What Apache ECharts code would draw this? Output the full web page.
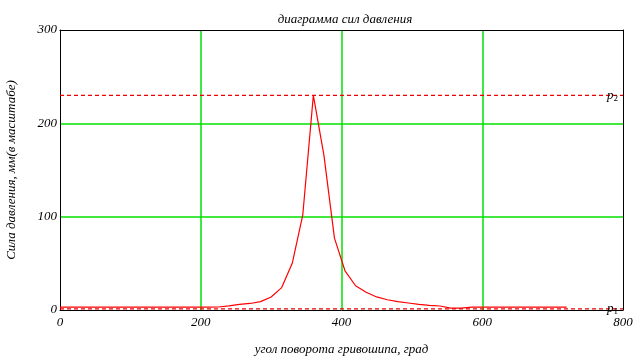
<!DOCTYPE html>
<html><head><meta charset="utf-8">
<script src="https://cdn.jsdelivr.net/npm/echarts@6/dist/echarts.min.js"></script>
<style>html,body{margin:0;padding:0;background:#fff}#c{width:644px;height:357px}</style>
</head><body><div id="c"></div>
<script>
var angles = [0,15,30,45,60,75,90,105,120,135,150,165,180,195,210,225,240,255,270,285,300,315,330,345,360,375,390,405,420,435,450,465,480,495,510,525,540,555,570,585,600,615,630,645,660,675,690,705,720];
var force  = [3,3,3,3,3,3,3,3,3,3,3,3,3,3,3,3.2,4.5,6,7,9,14,24,50,102,230,166,77,42,26,19,14,11,9,7.5,6,5,4.3,2,2,3,3,3,3,3,3,3,3,3,3];
var p2 = 230;
var p1 = 1.2;
var xMin = 0, xMax = 800;
var titleText = 'диаграмма сил давления';
var xName = 'угол поворота гривошипа, град';
var yName = 'Сила давления, мм(в масштабе)';

var font = 'Liberation Serif';
var lbl = {fontFamily:font,fontStyle:'italic',fontSize:13,color:'#000'};
function refLine(val, sub){
  return {type:'line',data:[[xMin,val],[xMax,val]],showSymbol:false,silent:true,z:3,
    lineStyle:{color:'#ee0000',type:[4,3],width:1.2},
    endLabel:{show:true,offset:[-24,0],formatter:'{p|p}{s|'+sub+'}',
      rich:{p:{fontFamily:font,fontStyle:'italic',fontSize:13,color:'#000'},
            s:{fontFamily:font,fontSize:9,color:'#000',verticalAlign:'bottom',padding:[6,0,0,0]}}}};
}
var chart = echarts.init(document.getElementById('c'));
chart.setOption({
  animation:false,
  title:{text:titleText,left:340,top:8,textAlign:'center',textStyle:{fontFamily:font,fontStyle:'italic',fontWeight:'normal',fontSize:13,color:'#000'}},
  grid:{left:60,right:21,top:30,bottom:47,containLabel:false,outerBoundsMode:'none'},
  xAxis:[{type:'value',min:xMin,max:xMax,interval:200,
    name:xName,nameLocation:'middle',nameGap:33,nameTextStyle:lbl,
    axisLine:{show:true,lineStyle:{color:'#000'}},axisTick:{show:false},
    axisLabel:Object.assign({margin:6},lbl),
    splitLine:{show:true,showMinLine:false,showMaxLine:false,lineStyle:{color:'#00e000',width:1.5}}},
    {type:'value',min:xMin,max:xMax,position:'top',axisLine:{show:true,onZero:false,lineStyle:{color:'#000'}},
     axisTick:{show:false},axisLabel:{show:false},splitLine:{show:false}}],
  yAxis:[{type:'value',min:0,max:300,interval:100,
    name:yName,nameLocation:'middle',nameGap:42,nameTextStyle:lbl,
    axisLine:{show:true,lineStyle:{color:'#000'}},axisTick:{show:false},
    axisLabel:Object.assign({margin:3},lbl),
    splitLine:{show:true,showMinLine:false,showMaxLine:false,lineStyle:{color:'#00e000',width:1.5}}},
    {type:'value',min:0,max:300,position:'right',axisLine:{show:true,onZero:false,lineStyle:{color:'#000'}},
     axisTick:{show:false},axisLabel:{show:false},splitLine:{show:false}}],
  series:[{type:'line',data:angles.map(function(a,i){return [a,force[i]];}),
    showSymbol:false,lineStyle:{color:'#ff0000',width:1.2}},
    refLine(p2,'2'), refLine(p1,'1')]
});
</script></body></html>
